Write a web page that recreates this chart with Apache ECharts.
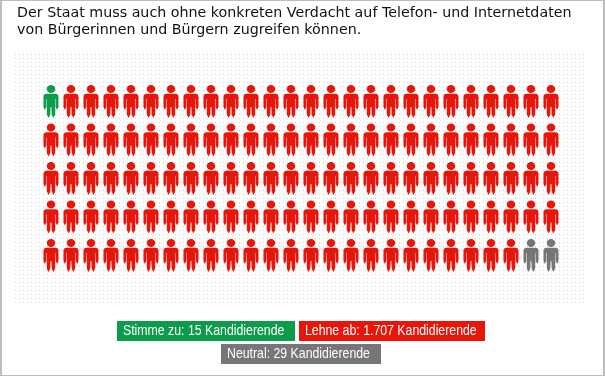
<!DOCTYPE html>
<html>
<head>
<meta charset="utf-8">
<style>
  html, body { margin: 0; padding: 0; background: #fff; }
  #chart { width: 605px; height: 376px; }
</style>
<script src="https://cdn.jsdelivr.net/npm/echarts@6/dist/echarts.min.js"></script>
</head>
<body>
<div id="chart"></div>
<script>
const questionLines = [
  'Der Staat muss auch ohne konkreten Verdacht auf Telefon- und Internetdaten',
  'von Bürgerinnen und Bürgern zugreifen können.'
]
const columns = ['1','2','3','4','5','6','7','8','9','10','11','12','13','14','15','16','17','18','19','20','21','22','23','24','25','26']
const rows = ['1','2','3','4','5']
const groupNames = ['Stimme zu', 'Lehne ab', 'Neutral']
const groupLabels = ['Stimme zu: 15 Kandidierende', 'Lehne ab: 1.707 Kandidierende', 'Neutral: 29 Kandidierende']
const groupColors = ['#0d9c4b', '#e8150b', '#767676']
// number of figures drawn per group, in reading order
const figureCounts = [1, 127, 2]

const personPath = 'path://M7.5,0 C9.9,0 11.8,1.8 11.8,4 C11.8,6.2 9.9,8 7.5,8 C5.1,8 3.2,6.2 3.2,4 C3.2,1.8 5.1,0 7.5,0 Z M3,8.8 L12,8.8 C13.8,8.8 15,10 15,11.8 L15,22 L13.7,25 L12.2,22 L12.2,14 L11.7,14 L11.7,29.5 L9.8,33 L8.2,29.5 L7.9,22 L7.1,22 L6.8,29.5 L5.2,33 L3.3,29.5 L3.3,14 L2.8,14 L2.8,22 L1.3,25 L0,22 L0,11.8 C0,10 1.2,8.8 3,8.8 Z'

// one series per group, figures fill the rows left to right
let cursor = 0
const series = groupNames.map((name, g) => {
  const data = []
  for (let i = 0; i < figureCounts[g]; i++) {
    data.push([cursor % columns.length, Math.floor(cursor / columns.length)])
    cursor++
  }
  return {
    name: name,
    type: 'scatter',
    symbol: personPath,
    symbolSize: [15, 33],
    symbolKeepAspect: false,
    itemStyle: { color: groupColors[g], opacity: 1 },
    silent: true,
    data: data
  }
})

// dotted backdrop
const dots = document.createElement('canvas')
dots.width = 4
dots.height = 4
const dotsCtx = dots.getContext('2d')
dotsCtx.fillStyle = '#d2d2d2'
dotsCtx.fillRect(0, 0, 1, 1)

function badge(x, y, w, index) {
  return {
    type: 'group',
    x: x,
    y: y,
    silent: true,
    children: [
      { type: 'rect', shape: { x: 0, y: 0, width: w, height: 20 }, style: { fill: groupColors[index] } },
      { type: 'text', x: 6, y: 10, scaleX: 0.82, style: {
        text: groupLabels[index], fill: '#fff', verticalAlign: 'middle',
        font: '15px "Liberation Sans", sans-serif'
      } }
    ]
  }
}

const chart = echarts.init(document.getElementById('chart'), null, { renderer: 'canvas' })
chart.setOption({
  animation: false,
  backgroundColor: '#fff',
  grid: { left: 41, width: 520, top: 82.25, height: 192.5 },
  xAxis: { type: 'category', data: columns, show: false },
  yAxis: { type: 'category', data: rows, inverse: true, show: false },
  graphic: [
    // window frame
    { type: 'rect', z: -1, silent: true, shape: { x: 0, y: 0, width: 605, height: 1 }, style: { fill: '#bdbdbd' } },
    { type: 'rect', z: -1, silent: true, shape: { x: 0, y: 0, width: 2, height: 376 }, style: { fill: '#bdbdbd' } },
    { type: 'rect', z: -1, silent: true, shape: { x: 603, y: 0, width: 2, height: 376 }, style: { fill: '#bdbdbd' } },
    { type: 'rect', z: -1, silent: true, shape: { x: 0, y: 375, width: 605, height: 1 }, style: { fill: '#bdbdbd' } },
    { type: 'rect', z: -1, silent: true, x: 15, y: 54, shape: { x: 0, y: 0, width: 569, height: 250 },
      style: { fill: { image: dots, repeat: 'repeat' } } },
    { type: 'text', silent: true, x: 17, y: 5, style: {
      text: questionLines.join('\n'), fill: '#111', lineHeight: 17,
      font: '14.25px "DejaVu Sans", sans-serif'
    } },
    badge(117, 321, 178, 0),
    badge(299, 321, 186, 1),
    badge(221, 344, 160, 2)
  ],
  series: series
})
</script>
</body>
</html>
